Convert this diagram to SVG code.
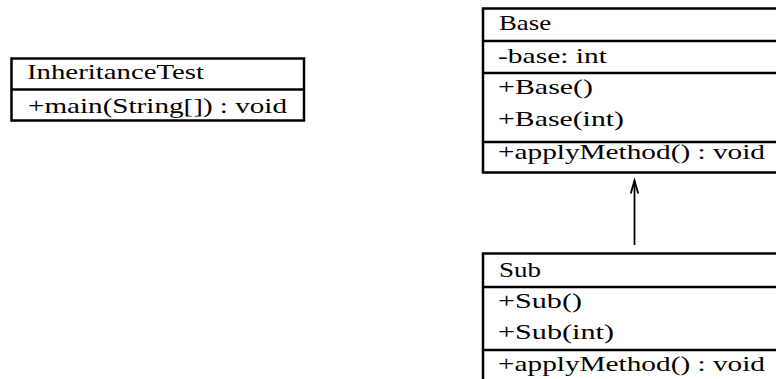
<svg xmlns="http://www.w3.org/2000/svg" width="776" height="379" viewBox="0 0 776 379">
  <style>
    .box { fill: #ffffff; stroke: #000000; stroke-width: 2.5; }
    .sep { stroke: #000000; stroke-width: 2.5; fill: none; }
    .lbl { font-family: "Liberation Serif", "Times New Roman", serif; font-size: 22px; fill: #000000; }
    .edge { stroke: #000000; stroke-width: 1.8; fill: none; }
  </style>
  <rect width="776" height="379" fill="#ffffff"/>

  <g id="connectors">
    <!-- generalization: Sub -> Base, open arrowhead at Base -->
    <line class="edge" x1="634.5" y1="245" x2="634.5" y2="181"/>
    <path class="edge" d="M630.8,193.5 L634.5,180.5 L638.2,193.5" stroke-width="1.5"/>
  </g>

  <g id="InheritanceTest">
    <rect class="box" x="11.5" y="58.5" width="292.5" height="62"/>
    <line class="sep" x1="11.5" y1="89.5" x2="304" y2="89.5"/>
    <text class="lbl" x="27" y="79" textLength="177" lengthAdjust="spacingAndGlyphs">InheritanceTest</text>
    <text class="lbl" x="28" y="113" textLength="259" lengthAdjust="spacingAndGlyphs">+main(String[]) : void</text>
  </g>

  <g id="Base">
    <rect class="box" x="483" y="8.5" width="300" height="164"/>
    <line class="sep" x1="483" y1="41" x2="783" y2="41"/>
    <line class="sep" x1="483" y1="73" x2="783" y2="73"/>
    <line class="sep" x1="483" y1="142" x2="783" y2="142"/>
    <text class="lbl" x="499" y="30" textLength="52" lengthAdjust="spacingAndGlyphs">Base</text>
    <text class="lbl" x="498" y="63" textLength="109" lengthAdjust="spacingAndGlyphs">-base: int</text>
    <text class="lbl" x="498" y="94" textLength="95" lengthAdjust="spacingAndGlyphs">+Base()</text>
    <text class="lbl" x="498" y="126" textLength="126" lengthAdjust="spacingAndGlyphs">+Base(int)</text>
    <text class="lbl" x="498" y="159" textLength="267" lengthAdjust="spacingAndGlyphs">+applyMethod() : void</text>
  </g>

  <g id="Sub">
    <rect class="box" x="483" y="253.5" width="300" height="140"/>
    <line class="sep" x1="483" y1="287" x2="783" y2="287"/>
    <line class="sep" x1="483" y1="350" x2="783" y2="350"/>
    <text class="lbl" x="499" y="277" textLength="42" lengthAdjust="spacingAndGlyphs">Sub</text>
    <text class="lbl" x="498" y="308" textLength="84" lengthAdjust="spacingAndGlyphs">+Sub()</text>
    <text class="lbl" x="498" y="339" textLength="116" lengthAdjust="spacingAndGlyphs">+Sub(int)</text>
    <text class="lbl" x="498" y="371" textLength="267" lengthAdjust="spacingAndGlyphs">+applyMethod() : void</text>
  </g>
</svg>
